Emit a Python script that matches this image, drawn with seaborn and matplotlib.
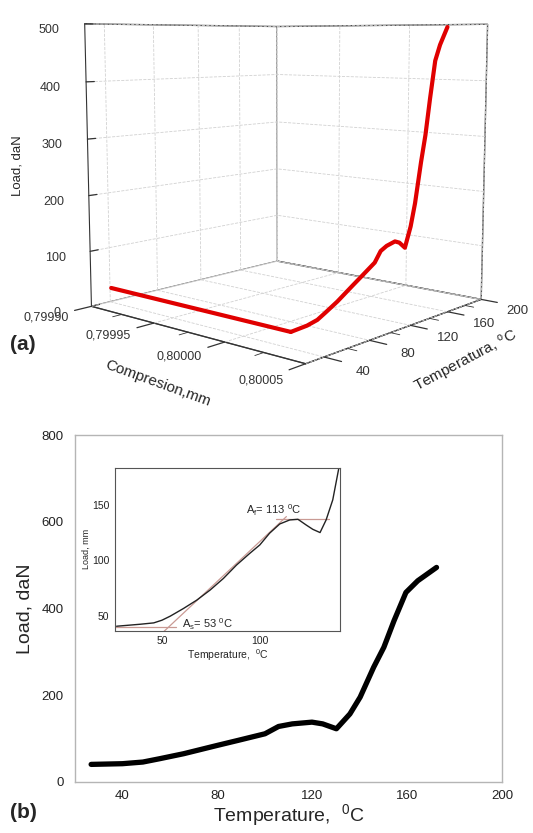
import numpy as np
import pandas as pd
import matplotlib
matplotlib.use("Agg")
import matplotlib.pyplot as plt
import seaborn as sns
from matplotlib.ticker import MultipleLocator

# ---------------- data ----------------
# panel (b) main curve
temp_main = [26.8, 40.0, 48.6, 55.7, 65.8, 80.0, 88.7, 100.1, 105.8, 111.6, 119.9,
             124.4, 130.2, 135.9, 140.2, 145.9, 150.2, 154.5, 159.5, 164.5, 172.4]
load_main = [40.6, 42.2, 46.0, 53.7, 65.2, 84.4, 95.9, 111.2, 128.0, 134.0, 138.0,
             134.0, 122.7, 157.0, 195.6, 264.6, 310.6, 372.0, 437.0, 464.0, 494.7]

# inset curve
temp_inset = [26.8, 39.0, 45.8, 50.0, 54.2, 61.0, 67.8, 74.6, 81.4, 88.1, 94.9, 100.0,
              105.0, 110.2, 115.3, 119.5, 123.7, 127.1, 130.8, 133.9, 137.3, 140.3]
load_inset = [41.0, 42.8, 44.0, 46.4, 50.0, 56.9, 64.4, 73.4, 83.8, 95.8, 106.3, 113.8,
              124.3, 132.6, 136.2, 136.8, 131.7, 127.8, 124.9, 136.2, 154.2, 181.7]

# tangent construction lines in inset
tan_base_T = [26.0, 57.0]
tan_base_L = [40.4, 40.4]
tan_slope_T = [50.8, 113.6]
tan_slope_L = [36.0, 139.2]
tan_top_T = [108.5, 135.6]
tan_top_L = [137.1, 137.1]

# panel (a) 3D curve: compression segment, then heating segment
seg1_comp = [0.799915, 0.80004]
seg1_temp = [26.8, 26.8]
seg1_load = [40.6, 40.6]
seg2_comp = 0.80004

# ticks
comp_ticks = [0.79990, 0.79995, 0.80000, 0.80005]
comp_minor = [0.799925, 0.799975, 0.800025]
temp3d_ticks = [40, 80, 120, 160, 200]
temp3d_minor = [60, 100, 140, 180]
load3d_ticks = [0, 100, 200, 300, 400, 500]

# ---------------- style ----------------
sns.set_style("white")
plt.rcParams["font.family"] = ["Liberation Sans", "DejaVu Sans"]
plt.rcParams["mathtext.fontset"] = "custom"
plt.rcParams["mathtext.rm"] = "Liberation Sans"
plt.rcParams["mathtext.it"] = "Liberation Sans:italic"

fig = plt.figure(figsize=(5.33, 8.33), dpi=100)

# ---------------- panel (a): 3D ----------------
ax3 = fig.add_axes([0.031, 0.534, 1.0, 0.52], projection="3d")
ax3.computed_zorder = False
ax3.set_proj_type("persp", focal_length=0.44)
ax3.view_init(elev=7, azim=-49)
ax3.set_box_aspect((1, 1, 1.0), zoom=1.09)

XMIN, XMAX, YMIN, YMAX, ZMIN, ZMAX = 0.79990, 0.80005, 25, 200, 0, 500
GRID = dict(color=(0.82, 0.82, 0.82), ls="--", lw=0.6, zorder=1)
TICK = dict(color="0.2", zorder=2)

# grid lines for compression and temperature ticks (floor + back walls)
for c in comp_ticks:
    ax3.plot([c, c], [YMIN, YMAX], [ZMIN, ZMIN], **GRID)
    ax3.plot([c, c], [YMAX, YMAX], [ZMIN, ZMAX], **GRID)
for t in temp3d_ticks:
    ax3.plot([XMIN, XMAX], [t, t], [ZMIN, ZMIN], **GRID)
    ax3.plot([XMIN, XMIN], [t, t], [ZMIN, ZMAX], **GRID)

# tick marks along the two floor axes
for c in comp_ticks:
    ax3.plot([c, c], [YMIN, YMIN - 13], [ZMIN, ZMIN], lw=0.9, **TICK)
for c in comp_minor:
    ax3.plot([c, c], [YMIN, YMIN - 7], [ZMIN, ZMIN], lw=0.6, **TICK)
for t in temp3d_ticks:
    ax3.plot([XMAX, XMAX + 0.00001], [t, t], [ZMIN, ZMIN], lw=0.9, **TICK)
for t in temp3d_minor:
    ax3.plot([XMAX, XMAX + 0.0000055], [t, t], [ZMIN, ZMIN], lw=0.6, **TICK)

# the measured curve
ax3.plot(seg1_comp, seg1_temp, seg1_load, color="#e00000", lw=3, zorder=5)
ax3.plot([seg2_comp] * len(temp_main), temp_main, load_main, color="#e00000", lw=3, zorder=5)

ax3.set_xlim(XMIN, XMAX)
ax3.set_ylim(YMIN, YMAX)
ax3.set_zlim(ZMIN, ZMAX)
ax3.set_xticks([])
ax3.set_yticks([])
ax3.set_zticks(load3d_ticks)
for axis in (ax3.xaxis, ax3.yaxis, ax3.zaxis):
    axis.set_pane_color((1, 1, 1, 1))
    axis.pane.set_edgecolor("0.3")
    axis.line.set_color("0.2")
    axis._axinfo["grid"].update({"color": (0.82, 0.82, 0.82, 1), "linestyle": "--", "linewidth": 0.6})
    axis._axinfo["tick"]["inward_factor"] = 0.0
    axis._axinfo["tick"]["outward_factor"] = 0.45
    axis._axinfo["tick"]["linewidth"] = {True: 0.9, False: 0.6}
ax3.zaxis.set_ticks_position("lower")
ax3.zaxis.set_label_position("lower")
ax3.tick_params(axis="z", labelsize=9, colors="0.2", pad=6)

fig.text(158 / 533, 1 - 383 / 833, "Compresion,mm", fontsize=11, rotation=-20,
         ha="center", va="center", rotation_mode="anchor")
fig.text(466 / 533, 1 - 362 / 833, "Temperatura, $^{\\rm o}$C", fontsize=11, rotation=28,
         ha="center", va="center", rotation_mode="anchor")
fig.text(18 / 533, 1 - 166 / 833, "Load, daN", fontsize=9.5, rotation=90,
         ha="center", va="center")

fig.text(0.018, 1 - 345 / 833, "(a)", fontsize=15, fontweight="bold", va="center")

# ---------------- panel (b): 2D ----------------
ax = fig.add_axes([75 / 533, 51 / 833, 427 / 533, 347 / 833])
ax.patch.set_alpha(0)
df_main = pd.DataFrame({"T": temp_main, "L": load_main})
sns.lineplot(data=df_main, x="T", y="L", ax=ax, color="black", lw=3.8, sort=False)
ax.set_xlim(20, 200)
ax.set_ylim(0, 800)
ax.xaxis.set_major_locator(MultipleLocator(40))
ax.xaxis.set_minor_locator(MultipleLocator(20))
ax.yaxis.set_major_locator(MultipleLocator(200))
ax.yaxis.set_minor_locator(MultipleLocator(100))
for s in ax.spines.values():
    s.set_color("#b5b5b5")
    s.set_linewidth(1.0)
ax.tick_params(which="both", direction="in", colors="#b5b5b5", labelcolor="#222222", labelsize=9.5)
ax.tick_params(which="major", length=4)
ax.tick_params(which="minor", length=3)
ax.tick_params(axis="y", which="major", pad=8)
ax.tick_params(axis="x", which="major", pad=6)
ax.set_xlabel("Temperature,  $^0$C", fontsize=14, labelpad=0)
ax.set_ylabel("Load, daN", fontsize=14, labelpad=6)

fig.text(0.018, 1 - 812 / 833, "(b)", fontsize=15, fontweight="bold", va="center")

# ---------------- inset ----------------
axi = fig.add_axes([115 / 533, 202.3 / 833, 225 / 533, 163 / 833])
df_in = pd.DataFrame({"T": temp_inset, "L": load_inset})
tan_col = "#c99a94"
axi.plot(tan_base_T, tan_base_L, color=tan_col, lw=0.9)
axi.plot(tan_slope_T, tan_slope_L, color=tan_col, lw=0.9)
axi.plot(tan_top_T, tan_top_L, color=tan_col, lw=0.9)
sns.lineplot(data=df_in, x="T", y="L", ax=axi, color="#222222", lw=1.0, sort=False)
axi.set_xlim(26, 141)
axi.set_ylim(37, 183)
axi.xaxis.set_major_locator(MultipleLocator(50))
axi.xaxis.set_minor_locator(MultipleLocator(25))
axi.yaxis.set_major_locator(MultipleLocator(50))
axi.yaxis.set_minor_locator(MultipleLocator(25))
for s in axi.spines.values():
    s.set_color("#555555")
    s.set_linewidth(0.8)
axi.tick_params(which="both", direction="out", colors="#555555", labelcolor="#222222", labelsize=7.5, pad=1)
axi.tick_params(which="major", length=3)
axi.tick_params(which="minor", length=2)
axi.set_xlabel("Temperature,  $^0$C", fontsize=7.5, labelpad=1)
axi.set_ylabel("Load, mm", fontsize=6.5, labelpad=1)
axi.text(60, 43, "A$_{\\rm s}$= 53 $^0$C", fontsize=8, va="center")
axi.text(93, 144.6, "A$_{\\rm f}$= 113 $^0$C", fontsize=8, va="center")

# ---------------- 3D floor tick labels as plain 2D texts ----------------
fig.canvas.draw()
M = ax3.M


def proj2d(x, y, z):
    v = M @ np.array([x, y, z, 1.0])
    return v[0] / v[3], v[1] / v[3]


for c in comp_ticks:
    px, py = proj2d(c, YMIN - 34, ZMIN)
    ax3.text2D(px, py, f"{c:.5f}".replace(".", ","), transform=ax3.transData,
               fontsize=9, color="0.2", ha="center", va="center", zorder=3)
for t in temp3d_ticks:
    px, py = proj2d(XMAX + 0.000022, t, ZMIN - 8)
    ax3.text2D(px, py, f"{t}", transform=ax3.transData,
               fontsize=9.5, color="0.2", ha="center", va="center", zorder=3)

fig.savefig("out.png", dpi=100)
